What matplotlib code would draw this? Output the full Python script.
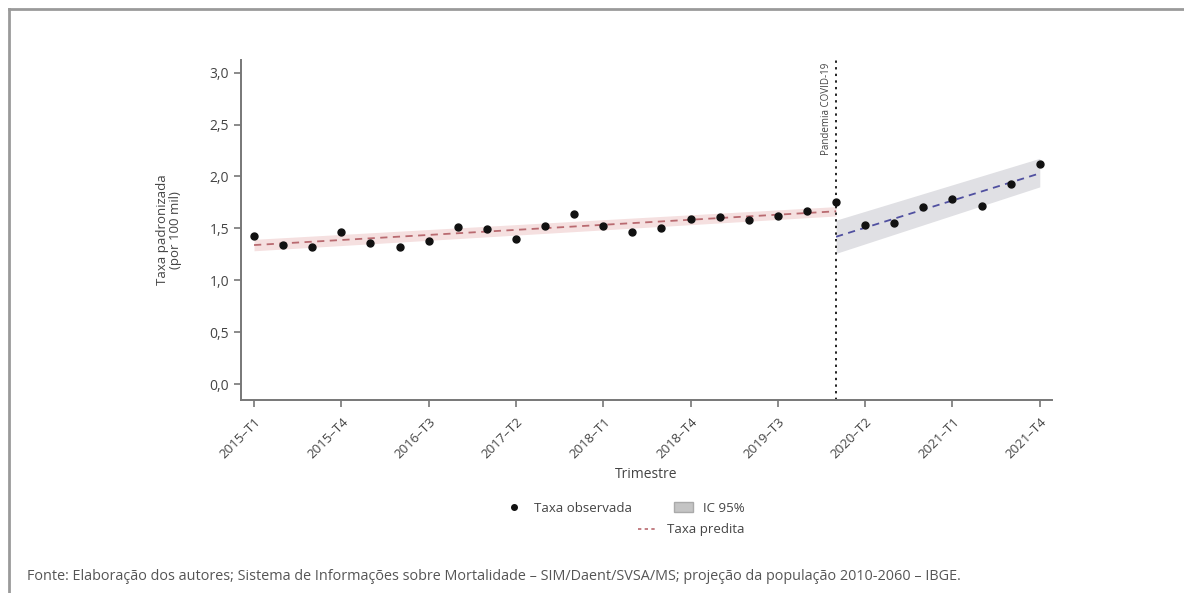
import matplotlib
matplotlib.use("Agg")
import matplotlib.pyplot as plt
from matplotlib.lines import Line2D
from matplotlib.patches import Patch
import numpy as np

_TXT = "#444444"
_AXIS = "#777777"
_RED = "#b96a70"
_PINK = "#f5e0e0"
_BLUE = "#5050a0"
_GREY_BAND = "#e0e0e4"

quarters = [
    "2015–T1", "2015–T2", "2015–T3", "2015–T4",
    "2016–T1", "2016–T2", "2016–T3", "2016–T4",
    "2017–T1", "2017–T2", "2017–T3", "2017–T4",
    "2018–T1", "2018–T2", "2018–T3", "2018–T4",
    "2019–T1", "2019–T2", "2019–T3", "2019–T4",
    "2020–T1", "2020–T2", "2020–T3", "2020–T4",
    "2021–T1", "2021–T2", "2021–T3", "2021–T4",
]

observed = [
    1.43, 1.34, 1.32, 1.47, 1.36, 1.32, 1.38, 1.51, 1.49, 1.40,
    1.52, 1.64, 1.52, 1.47, 1.50, 1.59, 1.61, 1.58, 1.62, 1.67,
    1.75, 1.53, 1.55, 1.71, 1.78, 1.72, 1.93, 2.12,
]

# fitted segments (start, end) before and after the pandemic break
pre_span = ["2015–T1", "2020–T1"]
pred_pre = [1.34, 1.665]
ci_pre_low = [1.285, 1.62]
ci_pre_high = [1.395, 1.71]

post_span = ["2020–T1", "2021–T4"]
pred_post = [1.42, 2.03]
ci_post_low = [1.26, 1.90]
ci_post_high = [1.58, 2.175]

break_quarter = "2020–T1"

yticks = [0.0, 0.5, 1.0, 1.5, 2.0, 2.5, 3.0]

plt.rcParams["font.family"] = ["Open Sans", "DejaVu Sans"]

fig = plt.figure(figsize=(11.84, 5.93), dpi=100)
ax = fig.add_axes([0.2035, 0.3255, 0.685, 0.5733])

x = np.arange(len(quarters))
pos = {q: i for i, q in enumerate(quarters)}
xpre = [pos[q] for q in pre_span]
xpost = [pos[q] for q in post_span]

ax.fill_between(xpre, ci_pre_low, ci_pre_high, color=_PINK, lw=0, zorder=1)
ax.plot(xpre, pred_pre, color=_RED, ls=(0, (4, 3)), lw=1.3, zorder=2)
ax.fill_between(xpost, ci_post_low, ci_post_high, color=_GREY_BAND, lw=0, zorder=1)
ax.plot(xpost, pred_post, color=_BLUE, ls=(0, (4, 3)), lw=1.3, zorder=2)

ax.plot(x, observed, "o", color="#111111", ms=5, zorder=3)

ax.axvline(pos[break_quarter], color="#222222", ls=(0, (1.2, 2.2)), lw=1.4, zorder=2)
ax.text(pos[break_quarter] - 0.32, 3.1, "Pandemia COVID-19", rotation=90,
        ha="center", va="top", fontsize=7, color=_TXT)

ax.set_xlim(-0.45, 27.42)
ax.set_ylim(-0.151, 3.121)
ax.set_yticks(yticks)
ax.set_yticklabels([f"{v:.1f}".replace(".", ",") for v in yticks])
ax.set_xticks(x[::3])
ax.set_xticklabels(quarters[::3], rotation=45, ha="right", rotation_mode="anchor")

ax.tick_params(axis="both", colors=_AXIS, labelcolor=_TXT, labelsize=9.5,
               length=5, width=1.2)
ax.tick_params(axis="y", labelsize=10)
ax.tick_params(axis="x", pad=6)
for side in ["top", "right"]:
    ax.spines[side].set_visible(False)
for side in ["left", "bottom"]:
    ax.spines[side].set_color(_AXIS)
    ax.spines[side].set_linewidth(1.4)

ax.set_xlabel("Trimestre", fontsize=10, color=_TXT, labelpad=4)
ax.set_ylabel("Taxa padronizada\n(por 100 mil)", fontsize=9.5, color=_TXT,
              labelpad=20, linespacing=1.0)

h_obs = Line2D([], [], marker="o", ls="none", color="#111111", ms=4)
h_ci = Patch(facecolor="#c4c4c4", edgecolor="#aaaaaa")
h_pred = Line2D([], [], color=_RED, ls=(0, (2, 2)), lw=1.2)
leg1 = fig.legend([h_obs, h_ci], ["Taxa observada", "IC 95%"], ncol=2,
                  loc="center", bbox_to_anchor=(0.528, 1 - 508 / 593),
                  frameon=False, fontsize=9.5, columnspacing=3.2,
                  handlelength=1.4, handletextpad=0.8)
for t in leg1.get_texts():
    t.set_color(_TXT)
leg2 = fig.legend([h_pred], ["Taxa predita"], loc="center",
                  bbox_to_anchor=(0.584, 1 - 530 / 593), frameon=False,
                  fontsize=9.5, handlelength=1.4, handletextpad=0.8)
for t in leg2.get_texts():
    t.set_color(_TXT)

fig.text(0.023, 1 - 576 / 593,
         "Fonte: Elaboração dos autores; Sistema de Informações sobre Mortalidade – "
         "SIM/Daent/SVSA/MS; projeção da população 2010-2060 – IBGE.",
         fontsize=10.4, color="#555555", va="center", ha="left")

# outer frame (top and left only)
fig.add_artist(Line2D([9 / 1184, 1], [1 - 9 / 593, 1 - 9 / 593],
                      transform=fig.transFigure, color="#9a9a9a", lw=2))
fig.add_artist(Line2D([9 / 1184, 9 / 1184], [0, 1 - 9 / 593],
                      transform=fig.transFigure, color="#9a9a9a", lw=2))

fig.savefig("out.png", dpi=100)
